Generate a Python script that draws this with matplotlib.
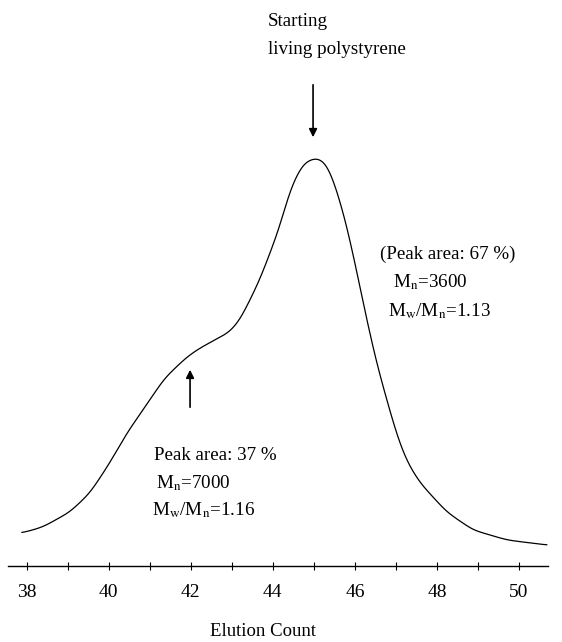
import matplotlib
matplotlib.use('Agg')

import matplotlib.pyplot as plt
import numpy as np

# GPC trace (elution count, detector response in arbitrary units)
elution = [37.88, 38.39, 39.05, 39.54, 40.02, 40.44, 40.83, 41.05, 41.32, 41.49,
           41.90, 42.22, 42.63, 42.95, 43.20, 43.44, 43.68, 43.93, 44.17, 44.41,
           44.73, 45.07, 45.32, 45.56, 45.80, 46.05, 46.29, 46.54, 46.78, 47.02,
           47.27, 47.59, 48.24, 48.88, 49.71, 50.68]
response = [33, 39, 54, 73, 103, 133, 156, 169, 186, 193,
            209, 218, 227, 234, 246, 266, 286, 313, 339, 376,
            403, 409, 403, 376, 341, 294, 246, 201, 166, 131,
            104, 83, 54, 36, 26, 21]

tick_values = [38, 40, 42, 44, 46, 48, 50]

plt.rcParams['font.family'] = ['Liberation Serif', 'DejaVu Serif']
plt.rcParams['mathtext.fontset'] = 'stix'


def smooth(x, y, sigma=0.13, step=0.01):
    # linear resample, then a small gaussian to take the reading jitter out
    gx = np.arange(x[0], x[-1] + step / 2, step)
    gy = np.interp(gx, x, y)
    k = np.arange(-4 * sigma, 4 * sigma + step / 2, step)
    w = np.exp(-0.5 * (k / sigma) ** 2)
    w /= w.sum()
    pad = len(k) // 2
    padded = np.concatenate([np.full(pad, gy[0]), gy, np.full(pad, gy[-1])])
    return gx, np.convolve(padded, w, mode='valid')


fig = plt.figure(figsize=(5.62, 6.42), dpi=100)
ax = fig.add_axes([8 / 562, 76 / 642, 540 / 562, 566 / 642])

sx, sy = smooth(np.array(elution), np.array(response, float))
ax.plot(sx, sy, color='black', lw=0.9)

ax.set_xlim(37.54, 50.71)
ax.set_ylim(0, 566)

for s in ('top', 'left', 'right'):
    ax.spines[s].set_visible(False)
ax.spines['bottom'].set_linewidth(1.0)
ax.set_yticks([])
ax.set_xticks(tick_values)
ax.set_xticks(np.arange(39, 50, 2), minor=True)
ax.tick_params(axis='x', which='both', direction='inout', length=6, width=0.8,
               labelsize=14, pad=10)
fig.text(263 / 562, 1 - 632 / 642, 'Elution Count', fontsize=13.5,
         ha='center', va='center')

arrow = dict(arrowstyle='-|>', color='black', lw=1.2, mutation_scale=12)
ax.annotate('', xy=(44.98, 426), xytext=(44.98, 484), arrowprops=arrow)
ax.annotate('', xy=(41.98, 199), xytext=(41.98, 156), arrowprops=arrow)

fs = 13.7
ax.text(43.88, 544, 'Starting', fontsize=fs, va='center')
ax.text(43.88, 516, 'living polystyrene', fontsize=fs, va='center')

ax.text(46.61, 312, '(Peak area: 67 %)', fontsize=fs, va='center')
ax.text(46.93, 284, r'M$_\mathrm{n}$=3600', fontsize=fs, va='center')
ax.text(46.80, 255, r'M$_\mathrm{w}$/M$_\mathrm{n}$=1.13', fontsize=fs, va='center')

ax.text(41.10, 111, 'Peak area: 37 %', fontsize=fs, va='center')
ax.text(41.15, 83, r'M$_\mathrm{n}$=7000', fontsize=fs, va='center')
ax.text(41.05, 56, r'M$_\mathrm{w}$/M$_\mathrm{n}$=1.16', fontsize=fs, va='center')

fig.savefig('out.png', dpi=100)
